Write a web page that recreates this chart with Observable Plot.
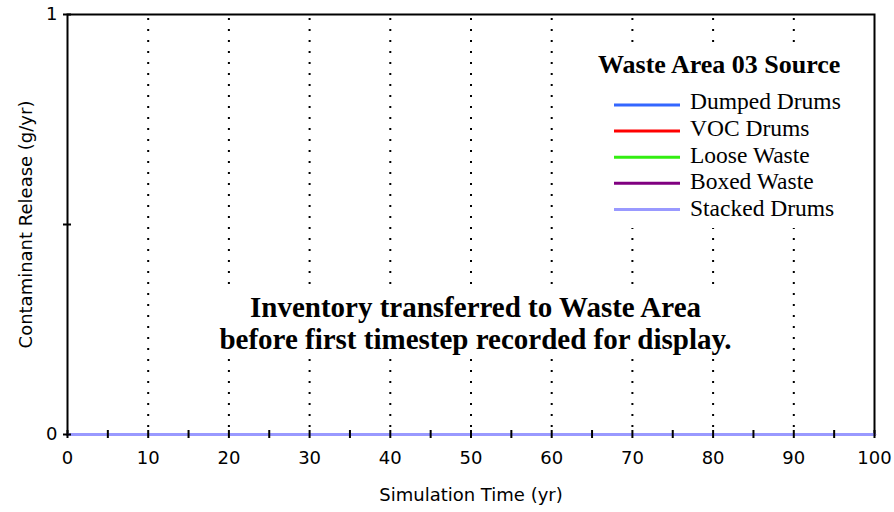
<!DOCTYPE html>
<html>
<head>
<meta charset="utf-8">
<script src="https://cdn.jsdelivr.net/npm/d3@7"></script>
<script src="https://cdn.jsdelivr.net/npm/@observablehq/plot@0.6"></script>
<style>
  html, body { margin: 0; padding: 0; background: #fff; }
</style>
</head>
<body>
<div id="chart"></div>
<script>
// ---- Data ----
const times         = [0, 10, 20, 30, 40, 50, 60, 70, 80, 90, 100];
const dumpedDrums   = [0, 0, 0, 0, 0, 0, 0, 0, 0, 0, 0];
const vocDrums      = [0, 0, 0, 0, 0, 0, 0, 0, 0, 0, 0];
const looseWaste    = [0, 0, 0, 0, 0, 0, 0, 0, 0, 0, 0];
const boxedWaste    = [0, 0, 0, 0, 0, 0, 0, 0, 0, 0, 0];
const stackedDrums  = [0, 0, 0, 0, 0, 0, 0, 0, 0, 0, 0];

const seriesNames  = ["Dumped Drums", "VOC Drums", "Loose Waste", "Boxed Waste", "Stacked Drums"];
const seriesValues = [dumpedDrums, vocDrums, looseWaste, boxedWaste, stackedDrums];
const seriesColors = ["#3366FF", "#FF0000", "#33EE11", "#800080", "#9999FF"];

const xTicks      = [0, 10, 20, 30, 40, 50, 60, 70, 80, 90, 100];
const xMinorTicks = [0, 5, 10, 15, 20, 25, 30, 35, 40, 45, 50, 55, 60, 65, 70, 75, 80, 85, 90, 95, 100];
const xGridTicks  = [10, 20, 30, 40, 50, 60, 70, 80, 90];
const yTicks      = [0, 0.5, 1];
const yTickLabels = ["0", "", "1"];

const xLabel = "Simulation Time (yr)";
const yLabel = "Contaminant Release (g/yr)";
const legendTitle = "Waste Area 03 Source";
const noteLines = ["Inventory transferred to Waste Area", "before first timestep recorded for display."];

// ---- Table built from the arrays ----
const rows = seriesNames.flatMap((name, i) =>
  seriesValues[i].map((v, j) => ({series: name, time: times[j], value: v}))
);

// ---- White backing boxes behind legend and note (hide gridlines there) ----
function backingBoxes(index, scales, values, dimensions) {
  const right = dimensions.width - dimensions.marginRight;
  const g = d3.create("svg:g").attr("fill", "#fff").attr("stroke", "none");
  g.append("rect").attr("x", right - 286).attr("y", 49).attr("width", 280).attr("height", 179);
  g.append("rect").attr("x", 165).attr("y", 287).attr("width", 610).attr("height", 71);
  return g.node();
}

// ---- Legend (custom render mark) ----
function legendMark(index, scales, values, dimensions) {
  const right = dimensions.width - dimensions.marginRight; // frame right edge
  const g = d3.create("svg:g").attr("text-anchor", "start");
  g.append("text")
    .attr("x", right - 276)
    .attr("y", 73)
    .attr("text-anchor", "start")
    .attr("font-family", "Liberation Serif, Times New Roman, serif")
    .attr("font-weight", "bold")
    .attr("font-size", 26)
    .attr("fill", "#000")
    .text(legendTitle);
  seriesNames.forEach((name, i) => {
    const ly = 105 + 26.1 * i;
    g.append("line")
      .attr("x1", right - 260).attr("x2", right - 194)
      .attr("y1", ly).attr("y2", ly)
      .attr("stroke", scales.color(name))
      .attr("stroke-width", 3);
    g.append("text")
      .attr("x", right - 184)
      .attr("y", 109 + 26.8 * i)
      .attr("text-anchor", "start")
      .attr("font-family", "Liberation Serif, Times New Roman, serif")
      .attr("font-size", 23.5)
      .attr("fill", "#000")
      .text(name);
  });
  return g.node();
}

const chart = Plot.plot({
  width: 894,
  height: 512,
  marginLeft: 67,
  marginRight: 20,
  marginTop: 14,
  marginBottom: 78,
  style: {fontFamily: "DejaVu Sans", fontSize: "18px", color: "#000", background: "#fff"},
  x: {domain: [0, 100]},
  y: {domain: [0, 1]},
  color: {domain: seriesNames, range: seriesColors},
  marks: [
    // dotted vertical gridlines
    Plot.ruleX(xGridTicks, {x: d => d, stroke: "#000", strokeWidth: 2, strokeDasharray: "2,9", strokeDashoffset: -4}),
    backingBoxes,
    Plot.frame({stroke: "#000", strokeWidth: 2}),
    // series
    Plot.line(rows, {x: "time", y: "value", z: "series", stroke: "series", strokeWidth: 3}),
    // crossing tick marks on x baseline
    Plot.ruleX(xMinorTicks, {x: d => d, y1: 0, y2: 0, insetTop: -4, insetBottom: -4, stroke: "#000", strokeWidth: 2}),
    // crossing tick marks on y axis
    Plot.ruleY(yTicks, {y: d => d, x1: 0, x2: 0, insetLeft: -4, insetRight: -4, stroke: "#000", strokeWidth: 2}),
    Plot.axisX(xTicks, {
      tickSize: 0, tickPadding: 17, fontSize: 18,
      label: xLabel, labelAnchor: "center", labelOffset: 66, labelArrow: "none"
    }),
    Plot.axisY(yTicks, {
      tickSize: 0, tickPadding: 10, fontSize: 18,
      tickFormat: d => yTickLabels[yTicks.indexOf(d)],
      label: yLabel, labelAnchor: "center", labelOffset: 48, labelArrow: "none"
    }),
    Plot.text([noteLines.join("\n")], {
      text: d => d, frameAnchor: "middle", dx: 4.5, dy: 98,
      fontFamily: "Liberation Serif, Times New Roman, serif", fontWeight: "bold",
      fontSize: 29, lineHeight: 1.1, fill: "#000"
    }),
    legendMark
  ]
});

document.getElementById("chart").appendChild(chart);
</script>
</body>
</html>
